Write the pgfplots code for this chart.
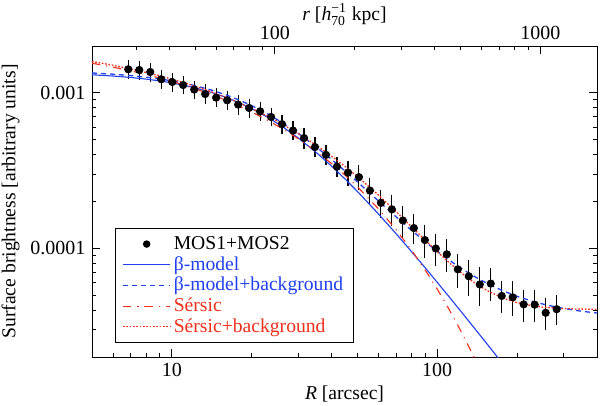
\documentclass[border=0pt]{standalone}
\usepackage{amsmath}
\usepackage{fontspec}
\setmainfont{Liberation Serif}
\usepackage{pgfplots}
\usepackage{pgfplotstable}
\pgfplotsset{compat=1.18}

\definecolor{cblue}{RGB}{32,64,240}
\definecolor{cred}{RGB}{238,48,28}

\newcommand{\labelfont}{\fontsize{10.6}{12.7}\selectfont}
\newcommand{\tickfont}{\fontsize{10.8}{13}\selectfont}

\pgfplotsset{
  linelegend/.style={legend image code/.code={\draw[##1] (0pt,0pt) -- (25.4pt,0pt);}},
  dotlegend/.style={legend image code/.code={\path[draw=none] (0pt,0pt) -- (25.4pt,0pt);
    \fill[black] (12.7pt,0pt) circle[radius=1.8pt];}},
}

% Radial surface-brightness profile: radius [arcsec], brightness, relative error
\pgfplotstableread{
R       S         e
6.85    1.416e-3  0.086
7.535   1.402e-3  0.092
8.289   1.361e-3  0.085
9.117   1.222e-3  0.085
10.03   1.173e-3  0.085
11.03   1.122e-3  0.081
12.14   1.049e-3  0.085
13.35   9.82e-4   0.096
14.68   9.31e-4   0.089
16.15   8.95e-4   0.086
17.77   8.40e-4   0.093
19.54   7.99e-4   0.086
21.50   7.60e-4   0.085
23.65   6.99e-4   0.077
26.01   6.29e-4   0.092
28.61   5.72e-4   0.089
31.48   5.12e-4   0.107
34.62   4.48e-4   0.096
38.09   3.99e-4   0.099
41.89   3.35e-4   0.093
46.08   3.07e-4   0.131
50.69   2.87e-4   0.131
55.76   2.35e-4   0.146
61.34   1.96e-4   0.156
67.47   1.78e-4   0.179
74.22   1.51e-4   0.182
81.64   1.35e-4   0.167
89.80   1.13e-4   0.194
98.78   9.97e-5   0.182
108.66  9.15e-5   0.189
119.53  7.33e-5   0.198
131.48  6.61e-5   0.213
144.63  5.85e-5   0.231
159.09  5.93e-5   0.191
175.00  4.94e-5   0.183
192.50  4.84e-5   0.201
211.75  4.36e-5   0.183
232.93  4.34e-5   0.182
256.22  3.85e-5   0.183
281.84  4.06e-5   0.171
}\profile

\begin{document}
\begin{tikzpicture}
\useasboundingbox (-49.68pt,-26.46pt) rectangle (274.32pt,192.78pt);
\begin{axis}[
  scale only axis, width=272.7pt, height=167.94pt,
  at={(0,0)}, anchor=south west,
  xmode=log, ymode=log,
  xmin=5, xmax=400, ymin=2e-5, ymax=2e-3,
  xtick={10,100}, xticklabels={10,100},
  minor xtick={6,7,8,9,20,30,40,50,60,70,80,90,200,300},
  ytick={1e-4,1e-3}, yticklabels={0.0001,0.001},
  minor ytick={3e-5,4e-5,5e-5,6e-5,7e-5,8e-5,9e-5,2e-4,3e-4,4e-4,5e-4,6e-4,7e-4,8e-4,9e-4},
  xtick pos=left,
  tick align=inside,
  major tick length=4.3pt, minor tick length=2.4pt,
  every tick/.style={black, line width=0.5pt},
  axis line style={line width=0.5pt},
  tick label style={font=\tickfont},
  label style={font=\labelfont},
  xlabel={\textit{R} [arcsec]},
  ylabel={Surface brightness [arbitrary units]},
  xlabel style={yshift=2pt},
  ylabel style={yshift=-1pt},
  legend style={at={(0.045,0.045)}, anchor=south west, draw=black, thin,
    fill=white, inner xsep=4pt, inner ysep=2.5pt, row sep=-0.9pt,
    nodes={inner sep=1.6pt}, font=\labelfont},
  legend cell align=left,
  linelegend,
]
\addplot[only marks, mark=*, mark size=2pt, black, dotlegend,
  error bars/.cd, y dir=both, y explicit relative,
  error bar style={line width=0.6pt, black},
  error mark options={mark size=1.9pt, line width=0.6pt, black}]
  table[x=R, y=S, y error=e] {\profile};
\addlegendentry{MOS1+MOS2}

% beta-model
\addplot[cblue, line width=0.6pt] coordinates {
(5,1.3060e-3)(6,1.2821e-3)(7,1.2550e-3)(8,1.2249e-3)(9,1.1925e-3)(10,1.1582e-3)
(12,1.0855e-3)(14,1.0101e-3)(16,9.347e-4)(18,8.613e-4)(20,7.913e-4)(23,6.945e-4)
(26,6.088e-4)(30,5.112e-4)(35,4.133e-4)(40,3.374e-4)(45,2.784e-4)(50,2.322e-4)
(60,1.666e-4)(70,1.2405e-4)(80,9.523e-5)(90,7.504e-5)(100,6.042e-5)(110,4.955e-5)
(120,4.128e-5)(130,3.484e-5)(140,2.975e-5)(150,2.569e-5)(160,2.237e-5)(170,1.963e-5)
(180,1.736e-5)(200,1.381e-5)};
\addlegendentry{\textcolor{cblue}{β-model}}

% beta-model plus constant background
\addplot[cblue, line width=0.7pt, dash pattern=on 2.7pt off 2.2pt] coordinates {
(5,1.3413e-3)(6,1.3174e-3)(7,1.2903e-3)(8,1.2602e-3)(9,1.2278e-3)(10,1.1935e-3)
(12,1.1208e-3)(14,1.0454e-3)(16,9.700e-4)(18,8.966e-4)(20,8.266e-4)(23,7.298e-4)
(26,6.441e-4)(30,5.465e-4)(35,4.486e-4)(40,3.727e-4)(45,3.137e-4)(50,2.675e-4)
(60,2.019e-4)(70,1.5935e-4)(80,1.3053e-4)(90,1.1034e-4)(100,9.572e-5)(110,8.485e-5)
(120,7.658e-5)(130,7.014e-5)(140,6.505e-5)(150,6.099e-5)(160,5.767e-5)(170,5.493e-5)
(180,5.266e-5)(200,4.911e-5)(225,4.600e-5)(250,4.381e-5)(275,4.222e-5)(300,4.102e-5)
(350,3.938e-5)(400,3.835e-5)};
\addlegendentry{\textcolor{cblue}{β-model+background}}

% Sersic profile
\addplot[cred, line width=0.6pt, dash pattern=on 4.5pt off 3.2pt on 0.6pt off 3.2pt] coordinates {
(5,1.5500e-3)(6,1.4627e-3)(7,1.3837e-3)(8,1.3114e-3)(9,1.2451e-3)(10,1.1837e-3)
(12,1.0738e-3)(14,9.780e-4)(16,8.936e-4)(18,8.189e-4)(20,7.522e-4)(23,6.647e-4)
(26,5.897e-4)(30,5.054e-4)(35,4.197e-4)(40,3.508e-4)(45,2.949e-4)(50,2.490e-4)
(60,1.798e-4)(70,1.3150e-4)(80,9.729e-5)(90,7.262e-5)(100,5.467e-5)(110,4.143e-5)
(120,3.162e-5)(130,2.424e-5)(140,1.868e-5)(150,1.447e-5)};
\addlegendentry{\textcolor{cred}{Sérsic}}

% Sersic profile plus constant background
\addplot[cred, line width=0.7pt, dash pattern=on 0.9pt off 0.9pt] coordinates {
(5,1.5905e-3)(6,1.5032e-3)(7,1.4242e-3)(8,1.3519e-3)(9,1.2856e-3)(10,1.2242e-3)
(12,1.1143e-3)(14,1.0185e-3)(16,9.341e-4)(18,8.594e-4)(20,7.927e-4)(23,7.052e-4)
(26,6.302e-4)(30,5.459e-4)(35,4.602e-4)(40,3.913e-4)(45,3.354e-4)(50,2.895e-4)
(60,2.203e-4)(70,1.720e-4)(80,1.378e-4)(90,1.1312e-4)(100,9.517e-5)(110,8.193e-5)
(120,7.212e-5)(130,6.474e-5)(140,5.918e-5)(150,5.497e-5)(160,5.175e-5)(180,4.738e-5)
(200,4.477e-5)(225,4.289e-5)(250,4.186e-5)(300,4.096e-5)(350,4.065e-5)(400,4.056e-5)};
\addlegendentry{\textcolor{cred}{Sérsic+background}}
\end{axis}

% physical radius along the top edge
\begin{axis}[
  scale only axis, width=272.7pt, height=167.94pt,
  at={(0,0)}, anchor=south west,
  xmode=log, xmin=20.45, xmax=1636, ymin=0, ymax=1,
  axis x line*=top, axis y line=none,
  xtick={100,1000}, xticklabels={100,1000},
  minor xtick={30,40,50,60,70,80,90,200,300,400,500,600,700,800,900},
  tick align=inside,
  major tick length=4.3pt, minor tick length=2.4pt,
  every tick/.style={black, line width=0.5pt},
  axis line style={line width=0.5pt, -},
  tick label style={font=\tickfont},
  label style={font=\labelfont},
  xlabel={\textit{r} [\textit{h}$_{\text{70}}^{\text{−1}}$ kpc]},
  xlabel style={yshift=-6.5pt},
]
\addplot[draw=none, forget plot] coordinates {(100,0.5)};
\end{axis}
\end{tikzpicture}
\end{document}
